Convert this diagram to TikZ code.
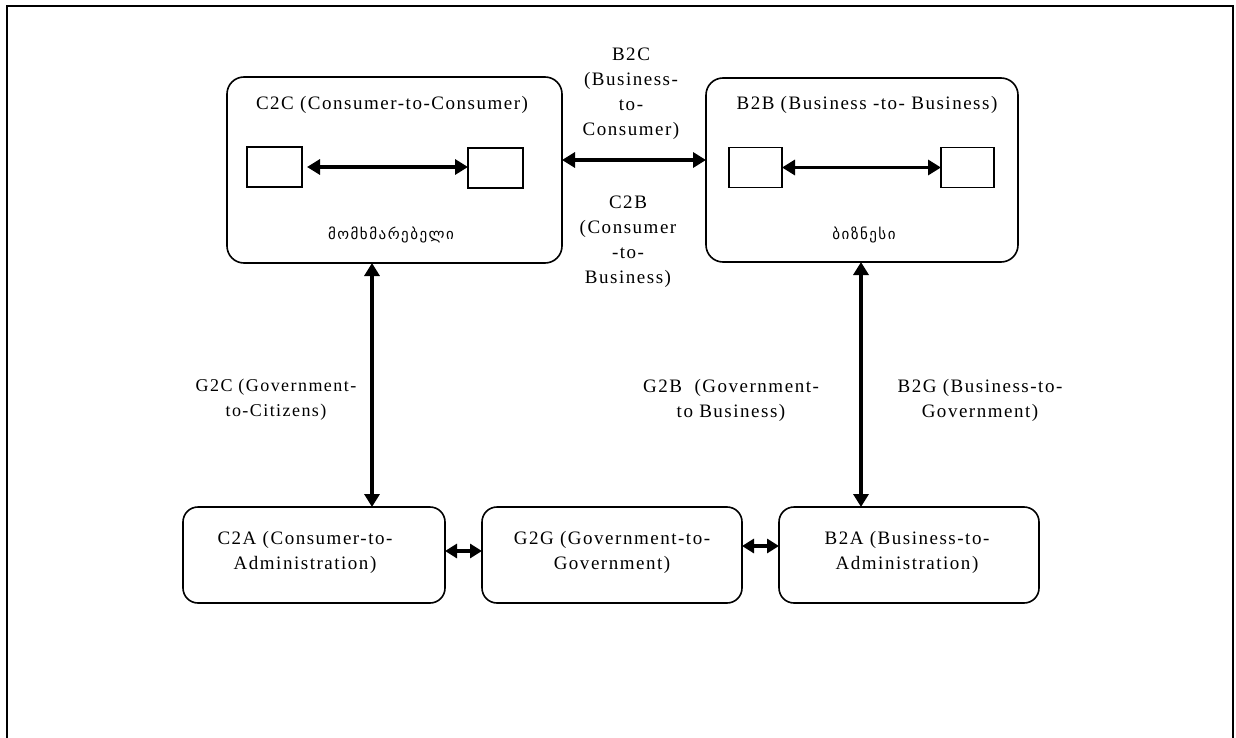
\documentclass[tikz,border=0pt]{standalone}
\usepackage{fontspec}
\setmainfont{Liberation Serif}[LetterSpace=8]
\newfontfamily\geo{DejaVu Sans}[LetterSpace=10]
\usetikzlibrary{arrows.meta}
\begin{document}
\begin{tikzpicture}[x=1pt,y=-1pt,
  every node/.style={inner sep=0pt,outer sep=0pt},
  txt/.style={font=\fontsize{19}{25}\selectfont,align=center},
  geotxt/.style={font=\geo\fontsize{15}{18}\selectfont},
  bigbox/.style={draw,line width=1.6pt,rounded corners=17pt},
  lowbox/.style={draw,line width=1.6pt,rounded corners=15pt,minimum width=260pt,minimum height=96pt},
  smallbox/.style={draw,line width=1.3pt,minimum width=55pt,minimum height=40pt},
  link/.style={line width=3.5pt,{Triangle[length=13pt,width=15pt]}-{Triangle[length=13pt,width=15pt]}},
  shortlink/.style={line width=4pt,{Triangle[length=12pt,width=14pt]}-{Triangle[length=12pt,width=14pt]}}
]
\useasboundingbox (0,0) rectangle (1236,738);
% open frame
\draw[line width=2pt] (7,738) -- (7,6) -- (1233,6) -- (1233,738);

% consumer-to-consumer group
\node[bigbox,minimum width=335pt,minimum height=186pt] (c2c) at (394.5,170) {};
\node[txt] (c2ct) at (392,105) {C2C (Consumer-to-Consumer)};
\node[smallbox] (c2ca) at (274.5,167) {};
\node[smallbox] (c2cb) at (495.5,168) {};
\node[geotxt] (c2cg) at (391,235) {მომხმარებელი};
\draw[link] (c2ca.east) ++(5,0) coordinate (c2cs) (c2cs) -- (c2cb.west |- c2cs);

% business-to-business group
\node[bigbox,minimum width=312pt,minimum height=184pt] (b2b) at (862,170) {};
\node[txt] (b2bt) at (867,105) {B2B (Business -to- Business)};
\node[smallbox,minimum width=53pt] (b2ba) at (755.5,167.5) {};
\node[smallbox,minimum width=53pt] (b2bb) at (967.5,167.5) {};
\node[geotxt] (b2bg) at (864,235) {ბიზნესი};
\draw[link] (b2ba.east) -- (b2bb.west);

% lower row
\node[lowbox,minimum width=262pt] (c2a) at (314,555) {};
\node[lowbox] (g2g) at (612,555) {};
\node[lowbox] (b2a) at (909,555) {};
\node[txt] (c2at) at (305,552) {C2A (Consumer-to-\\ Administration)};
\node[txt] (g2gt) at (612,552) {G2G (Government-to-\\ Government)};
\node[txt] (b2at) at (907,552) {B2A (Business-to-\\ Administration)};

% connectors
\draw[link] (c2c.east |- 0,160) -- (b2b.west |- 0,160);
\draw[link] (c2c.south -| 372,0) -- (c2a.north -| 372,0);
\draw[link] (b2b.south -| 861,0) -- (b2a.north -| 861,0);
\draw[shortlink] (c2a.east |- 0,551) -- (g2g.west |- 0,551);
\draw[shortlink] (g2g.east |- 0,546) -- (b2a.west |- 0,546);

% connector labels
\node[txt] (b2cl) at (631,94) {B2C\\ (Business-\\ to-\\ Consumer)};
\node[txt] (c2bl) at (628,242) {C2B\\ (Consumer\\ -to-\\ Business)};
\node[txt,font=\fontsize{18}{25}\selectfont] (g2cl) at (276,400) {G2C (Government-\\ to-Citizens)};
\node[txt] (g2bl) at (731,400) {G2B \ (Government-\\ to Business)};
\node[txt] (b2gl) at (980,400) {B2G (Business-to-\\ Government)};
\end{tikzpicture}
\end{document}
